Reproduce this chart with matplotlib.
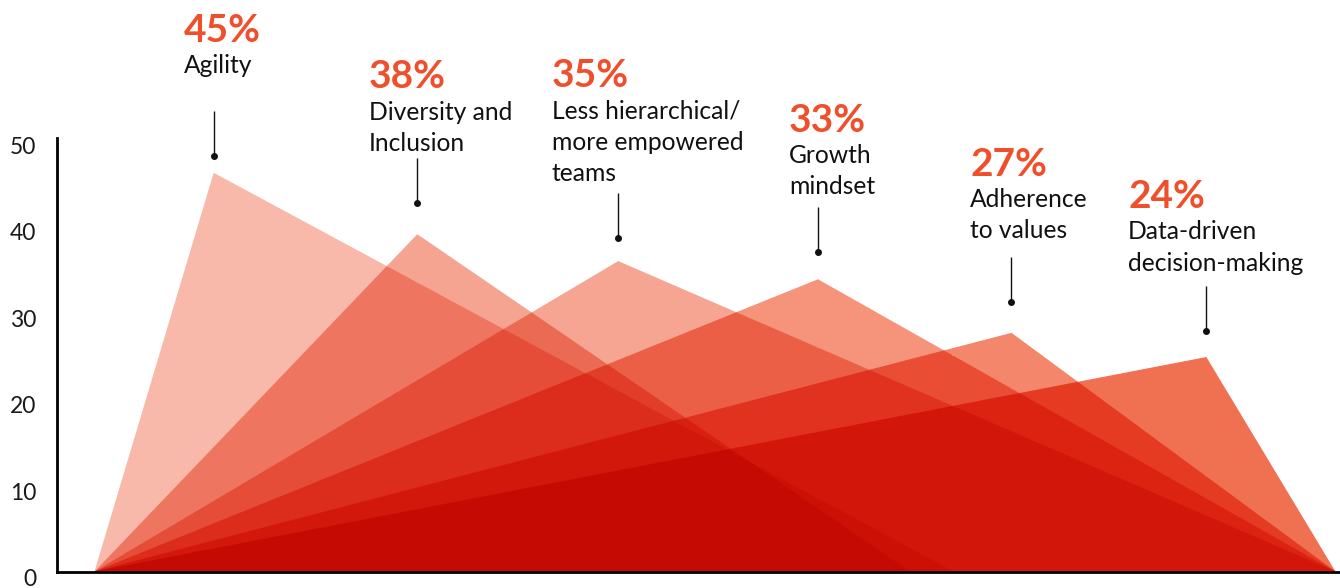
import matplotlib
matplotlib.use("Agg")
import matplotlib.pyplot as plt
import matplotlib.transforms as mtransforms
from matplotlib.collections import PolyCollection
import numpy as np

# ---------------- data ----------------
categories = ["Agility", "Diversity and\nInclusion",
              "Less hierarchical/\nmore empowered\nteams",
              "Growth\nmindset", "Adherence\nto values",
              "Data-driven\ndecision-making"]
percentages = [45, 38, 35, 33, 27, 24]
peak_heights = [46.1, 39.0, 35.9, 33.8, 27.6, 24.8]
start_x = [0, 0, 0, 0, 0, 0]
peak_x = [9.6, 26.0, 42.2, 58.3, 73.9, 89.6]
end_x = [69.2, 65.7, 100, 100, 100, 100]
series_colors = ["#f8b8aa", "#f5a492", "#f5a592", "#f5937b", "#f3866b", "#f07052"]
y_ticks = [0, 10, 20, 30, 40, 50]

# ---------------- layout (pixels) ----------------
W, H = 1340, 588
AX_L, AX_R, AX_B, AX_T = 57, 1340, 572, 138
text_left_px = [184, 369, 552, 789, 970, 1128]
pct_baseline_px = [41.7, 88.3, 87.3, 131.7, 176, 208.2]
line_step_px = 31.2
dot_px = [156, 203.3, 238.3, 251.7, 302, 331]
stem_len_px = 45

FONT = ["Lato", "DejaVu Sans"]
plt.rcParams["font.family"] = FONT

fig = plt.figure(figsize=(W / 100, H / 100), dpi=100)
ax = fig.add_axes([AX_L / W, (H - AX_B) / H, (AX_R - AX_L) / W, (AX_B - AX_T) / H])

px_per_x = (1335 - 95) / 100.0
x_left = (AX_L - 95) / px_per_x
x_right = (AX_R - 95) / px_per_x
px_per_y = 8.64
y_top = (AX_B - AX_T) / px_per_y
ax.set_xlim(x_left, x_right)
ax.set_ylim(0, y_top)


def tent(i, x):
    s, p, e, h = start_x[i], peak_x[i], end_x[i], peak_heights[i]
    x = np.asarray(x, dtype=float)
    up = h * (x - s) / (p - s)
    down = h * (e - x) / (e - p)
    out = np.where(x <= p, up, down)
    out = np.where((x < s) | (x > e), 0.0, out)
    return np.clip(out, 0, None)


n = len(percentages)
rgb = [np.array(matplotlib.colors.to_rgb(c)) for c in series_colors]

# breakpoints: vertices + pairwise crossings (multiply-blend arrangement)
xs = sorted(set(start_x + peak_x + end_x))
extra = []
for a, b in zip(xs[:-1], xs[1:]):
    for i in range(n):
        for j in range(i + 1, n):
            da = tent(i, a) - tent(j, a)
            db = tent(i, b) - tent(j, b)
            if da * db < 0:
                extra.append(a + (b - a) * da / (da - db))
xs = sorted(set(xs + extra))

polys, cols = [], []
for a, b in zip(xs[:-1], xs[1:]):
    if b - a < 1e-9:
        continue
    mid = 0.5 * (a + b)
    vals = [float(tent(i, mid)) for i in range(n)]
    active = [i for i in sorted(range(n), key=lambda k: -vals[k]) if vals[i] > 1e-9]
    for k in range(len(active)):
        up = active[k]
        lo = active[k + 1] if k + 1 < len(active) else None
        ua, ub = float(tent(up, a)), float(tent(up, b))
        la = float(tent(lo, a)) if lo is not None else 0.0
        lb = float(tent(lo, b)) if lo is not None else 0.0
        col = np.ones(3)
        for m in active[:k + 1]:
            col = col * rgb[m]
        polys.append([(a, la), (b, lb), (b, ub), (a, ua)])
        cols.append(col)

pc = PolyCollection(polys, facecolors=cols, edgecolors=cols, linewidths=0.9,
                    joinstyle="miter", zorder=1)
ax.add_collection(pc)

# axes styling
for side in ["top", "right"]:
    ax.spines[side].set_visible(False)
for side in ["left", "bottom"]:
    ax.spines[side].set_linewidth(2.0)
    ax.spines[side].set_color("#000000")
    ax.spines[side].set_zorder(5)
ax.set_xticks([])
ax.set_yticks(y_ticks)
ax.set_yticklabels([str(t) for t in y_ticks])
ax.tick_params(axis="y", length=0, pad=15, labelsize=16.5, labelcolor="#1a1a1a")
off = mtransforms.ScaledTranslation(0, -5.5 / 100, fig.dpi_scale_trans)
for lbl in ax.get_yticklabels():
    lbl.set_transform(lbl.get_transform() + off)
    lbl.set_family(FONT)

# annotation stems with dots
for i in range(n):
    yd = (AX_B - dot_px[i]) / px_per_y
    yt = (AX_B - dot_px[i] + stem_len_px) / px_per_y
    ax.plot([peak_x[i], peak_x[i]], [yd, yt], color="#111111", lw=1.0,
            solid_capstyle="butt", clip_on=False, zorder=6)
    ax.plot([peak_x[i]], [yd], marker="o", ms=4, color="#111111",
            clip_on=False, zorder=6)

# percentage and category labels
for i in range(n):
    xf = text_left_px[i] / W
    fig.text(xf, 1 - pct_baseline_px[i] / H, f"{percentages[i]}%",
             fontsize=28, fontweight="bold", color="#f04f2c",
             ha="left", va="baseline", family=FONT)
    for k, line in enumerate(categories[i].split("\n")):
        yb = pct_baseline_px[i] + line_step_px * (k + 1)
        fig.text(xf, 1 - yb / H, line, fontsize=17.7, color="#111111",
                 ha="left", va="baseline", family=FONT)

fig.savefig("out.png", dpi=100, facecolor="white")
